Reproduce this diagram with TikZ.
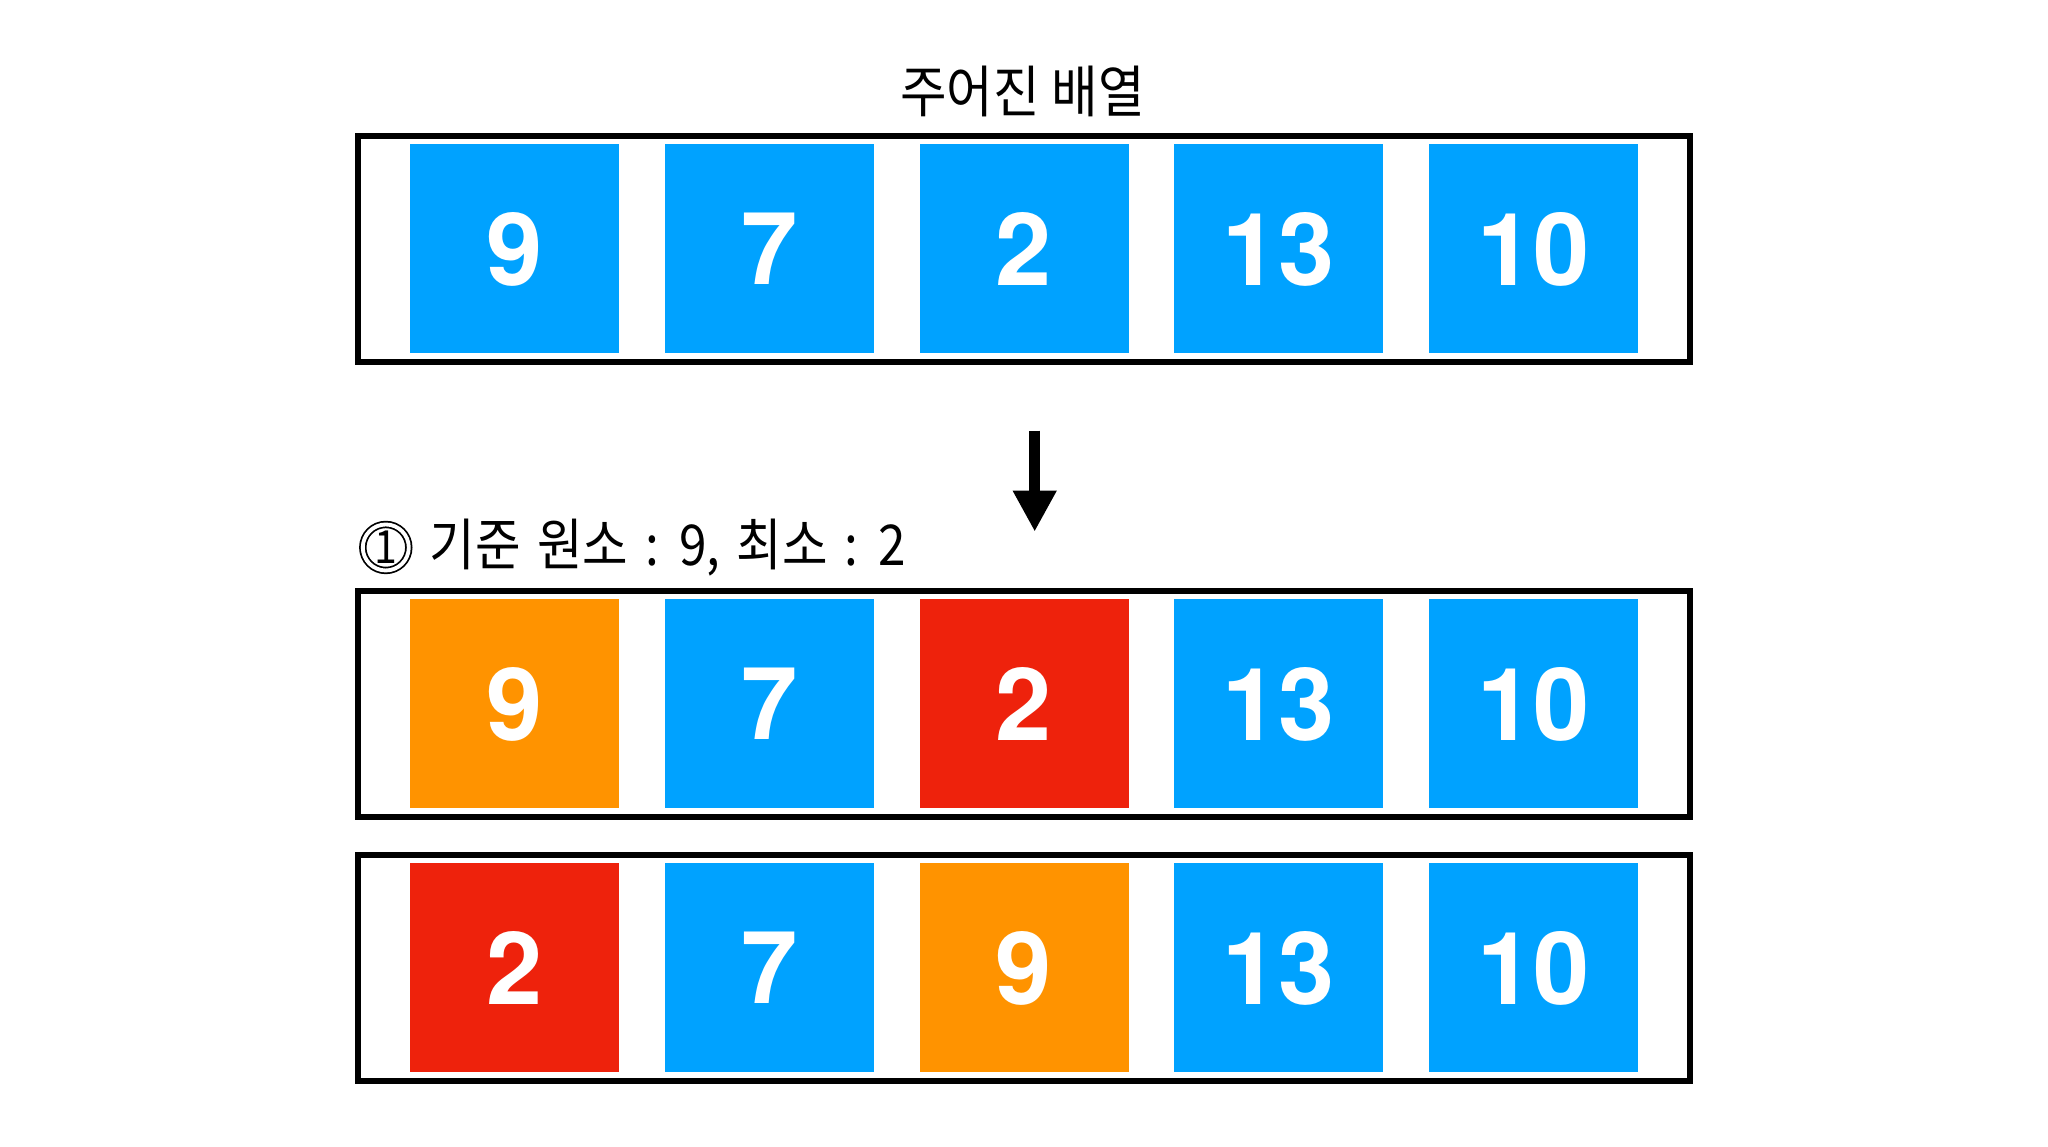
\documentclass[tikz,border=0pt]{standalone}
\usepackage{fontspec}
\newfontfamily\krfont[FakeStretch=0.9]{Noto Sans CJK KR}
\newfontfamily\krlabel[FakeStretch=0.88, WordSpace=1.5]{Noto Sans CJK KR}
\newfontfamily\numfont{TeX Gyre Heros}
\usepackage{xcolor}
\definecolor{cellblue}{RGB}{0,162,255}
\definecolor{cellorange}{RGB}{255,147,0}
\definecolor{cellred}{RGB}{238,34,12}
\usepackage{tikz}
\usetikzlibrary{arrows.meta}
\tikzset{
  rowframe/.style={draw=black, line width=1.6pt, minimum width=13.32cm, minimum height=2.26cm, inner sep=0pt},
  cell/.style={minimum size=2.09cm, inner sep=0pt, text=white, font=\numfont\bfseries\fontsize{28.7}{30}\selectfont},
}

\begin{document}
\begin{tikzpicture}
  \useasboundingbox (0,0) rectangle (20.48,11.47);

  % Given array
  \node[font=\krfont\fontsize{16}{18}\selectfont] (title) at (10.225,10.553) {주어진 배열};
  \node[rowframe] (frameA) at (10.24,8.98) {};
  \node[cell, fill=cellblue] (a1) at (5.145,8.98) {9};
  \node[cell, fill=cellblue] (a2) at (7.6925,8.98) {7};
  \node[cell, fill=cellblue] (a3) at (10.24,8.98) {2};
  \node[cell, fill=cellblue] (a4) at (12.7875,8.98) {13};
  \node[cell, fill=cellblue] (a5) at (15.335,8.98) {10};

  % Arrow
  \coordinate (arrtop) at (10.347,7.163);
  \coordinate (arrtip) at (10.347,6.153);
  \draw[line width=3pt, -{Triangle[width=0.41cm,length=0.41cm]}] (arrtop) -- (arrtip);

  % Step 1: pivot 9, minimum 2
  \node[draw, circle, double, double distance=1.1pt, line width=0.5pt, minimum size=0.46cm, inner sep=0pt,
        font=\krfont\fontsize{13}{14}\selectfont] (stepnum) at (3.858,5.995) {1};
  \node[anchor=west, inner sep=0pt, font=\krlabel\fontsize{16}{18}\selectfont] (steplabel) at (4.29,5.99) {기준 원소 : 9, 최소 : 2};

  \node[rowframe] (frameB) at (10.24,4.43) {};
  \node[cell, fill=cellorange] (b1) at (5.145,4.43) {9};
  \node[cell, fill=cellblue] (b2) at (7.6925,4.43) {7};
  \node[cell, fill=cellred] (b3) at (10.24,4.43) {2};
  \node[cell, fill=cellblue] (b4) at (12.7875,4.43) {13};
  \node[cell, fill=cellblue] (b5) at (15.335,4.43) {10};

  % After swap
  \node[rowframe] (frameC) at (10.24,1.79) {};
  \node[cell, fill=cellred] (c1) at (5.145,1.79) {2};
  \node[cell, fill=cellblue] (c2) at (7.6925,1.79) {7};
  \node[cell, fill=cellorange] (c3) at (10.24,1.79) {9};
  \node[cell, fill=cellblue] (c4) at (12.7875,1.79) {13};
  \node[cell, fill=cellblue] (c5) at (15.335,1.79) {10};
\end{tikzpicture}
\end{document}
